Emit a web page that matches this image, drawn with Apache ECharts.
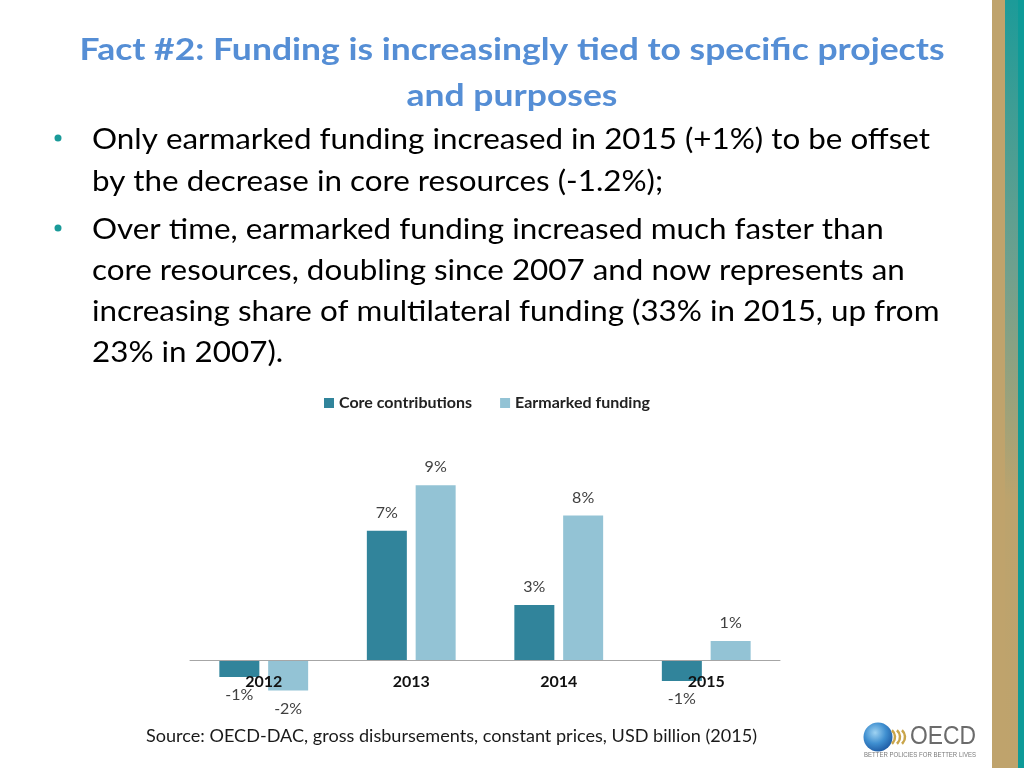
<!DOCTYPE html>
<html>
<head>
<meta charset="utf-8">
<script src="https://cdn.jsdelivr.net/npm/echarts@6/dist/echarts.min.js"></script>
<style>
html,body{margin:0;padding:0;background:#fff;}
#main{width:1024px;height:768px;}
</style>
</head>
<body>
<div id="main"></div>
<script>
// ---- data ----
const categories = ['2012', '2013', '2014', '2015'];
const seriesNames = ['Core contributions', 'Earmarked funding'];
const coreValues = [-0.9, 6.8, 2.9, -1.1];
const earmarkedValues = [-1.6, 9.2, 7.6, 1.0];

const titleLines = [
  'Fact #2: Funding is increasingly tied to specific projects',
  'and purposes'
];
const bulletLines = [
  'Only earmarked funding increased in 2015 (+1%) to be offset',
  'by the decrease in core resources (-1.2%);',
  'Over time, earmarked funding increased much faster than',
  'core resources, doubling since 2007 and now represents an',
  'increasing share of multilateral funding (33% in 2015, up from',
  '23% in 2007).'
];
const sourceText = 'Source: OECD-DAC, gross disbursements, constant prices, USD billion (2015)';
const logoText = 'OECD';
const logoSub = 'BETTER POLICIES FOR BETTER LIVES';

// ---- helpers ----
const mctx = document.createElement('canvas').getContext('2d');
function fitScale(str, font, target) {
  mctx.font = font;
  return target / mctx.measureText(str).width;
}

const titleFont = 'bold 30px Lato';
const titleScale = fitScale(titleLines[0], titleFont, 865);
const bulletFont = '28px Lato';
const bulletScale = fitScale(bulletLines[0], bulletFont, 838);
const srcFont = '17px Lato';
const srcScale = fitScale(sourceText, srcFont, 611);
const logoFont = '25px "Liberation Sans"';
const logoScale = fitScale(logoText, logoFont, 66);
const subFont = '7px "Liberation Sans"';
const subScale = fitScale(logoSub, subFont, 112);

const CORE = '#31849b';
const EARM = '#93c3d5';

function mkData(vals) {
  return vals.map(v => ({
    value: v,
    label: { position: v < 0 ? 'bottom' : 'top' }
  }));
}

const graphics = [];
// right decorative stripes
graphics.push({ type: 'rect', shape: { x: 992, y: 0, width: 13, height: 768 }, style: { fill: '#bfa36c' } });
graphics.push({ type: 'rect', shape: { x: 1005, y: 0, width: 13, height: 768 }, style: {
  fill: { type: 'linear', x: 0, y: 0, x2: 0, y2: 1, colorStops: [
    { offset: 0, color: '#1c9b99' }, { offset: 0.35, color: '#6fa08e' },
    { offset: 0.65, color: '#bca36d' }, { offset: 1, color: '#bfa36c' }] } } });
graphics.push({ type: 'rect', shape: { x: 1018, y: 0, width: 6, height: 768 }, style: { fill: '#0e9b98' } });

// title
const titleY = [50, 96];
titleLines.forEach((t, i) => {
  graphics.push({ type: 'text', x: 512, y: titleY[i], scaleX: titleScale,
    style: { text: t, font: titleFont, fill: '#558ed5', textAlign: 'center', textVerticalAlign: 'middle' } });
});
// bullets
const lineY = [140, 182, 230, 271, 312, 353];
bulletLines.forEach((t, i) => {
  graphics.push({ type: 'text', x: 92, y: lineY[i], scaleX: bulletScale,
    style: { text: t, font: bulletFont, fill: '#000', textAlign: 'left', textVerticalAlign: 'middle' } });
});
[0, 2].forEach(i => {
  graphics.push({ type: 'circle', shape: { cx: 58, cy: lineY[i] - 2, r: 3.5 }, style: { fill: '#1a9a99' } });
});
// source
graphics.push({ type: 'text', x: 146, y: 737, scaleX: srcScale,
  style: { text: sourceText, font: srcFont, fill: '#1a1a1a', textAlign: 'left', textVerticalAlign: 'middle' } });
// OECD logo
graphics.push({ type: 'circle', shape: { cx: 878, cy: 737, r: 14.5 }, style: {
  fill: { type: 'radial', x: 0.4, y: 0.35, r: 0.75, colorStops: [
    { offset: 0, color: '#9fd3f2' }, { offset: 0.5, color: '#3f8fd0' }, { offset: 1, color: '#174f9a' }] } } });
[0, 1, 2].forEach(i => {
  graphics.push({ type: 'arc', shape: { cx: 886 + i * 5, cy: 737, r: 9, startAngle: -0.85, endAngle: 0.85 },
    style: { stroke: '#c9a54b', lineWidth: 2.5, fill: null } });
});
graphics.push({ type: 'text', x: 910, y: 737, scaleX: logoScale,
  style: { text: logoText, font: logoFont, fill: '#6b6b6b', textAlign: 'left', textVerticalAlign: 'middle' } });
graphics.push({ type: 'text', x: 864, y: 755, scaleX: subScale,
  style: { text: logoSub, font: subFont, fill: '#7a7a7a', textAlign: 'left', textVerticalAlign: 'middle' } });

const chart = echarts.init(document.getElementById('main'), null, { renderer: 'canvas' });
chart.setOption({
  animation: false,
  backgroundColor: '#fff',
  legend: {
    left: 324, top: 395, padding: 0,
    itemWidth: 10, itemHeight: 10, itemGap: 28,
    icon: 'rect',
    textStyle: { fontFamily: 'Lato', fontWeight: 'bold', fontSize: 16, color: '#222' },
    data: seriesNames
  },
  grid: { left: 190, right: 244, top: 470, bottom: 51 },
  xAxis: {
    type: 'category', data: categories, z: 10,
    axisLine: { onZero: true, lineStyle: { color: '#a6a6a6', width: 1 } },
    axisTick: { show: false },
    axisLabel: { margin: -43, fontFamily: 'Lato', fontWeight: 'bold', fontSize: 16, color: '#111' }
  },
  yAxis: { type: 'value', min: -3, max: 10, interval: 1, show: true,
    axisLine: { show: false }, axisTick: { show: false }, axisLabel: { show: false },
    splitLine: { show: false } },
  series: [
    { name: seriesNames[0], type: 'bar', data: mkData(coreValues), barWidth: 40, barGap: '22%',
      itemStyle: { color: CORE },
      label: { show: true, distance: 10, fontFamily: 'Lato', fontSize: 16, color: '#404040',
        formatter: p => Math.round(p.value) + '%' } },
    { name: seriesNames[1], type: 'bar', data: mkData(earmarkedValues), barWidth: 40, barGap: '22%',
      itemStyle: { color: EARM },
      label: { show: true, distance: 10, fontFamily: 'Lato', fontSize: 16, color: '#404040',
        formatter: p => Math.round(p.value) + '%' } }
  ],
  graphic: graphics
});
</script>
</body>
</html>
